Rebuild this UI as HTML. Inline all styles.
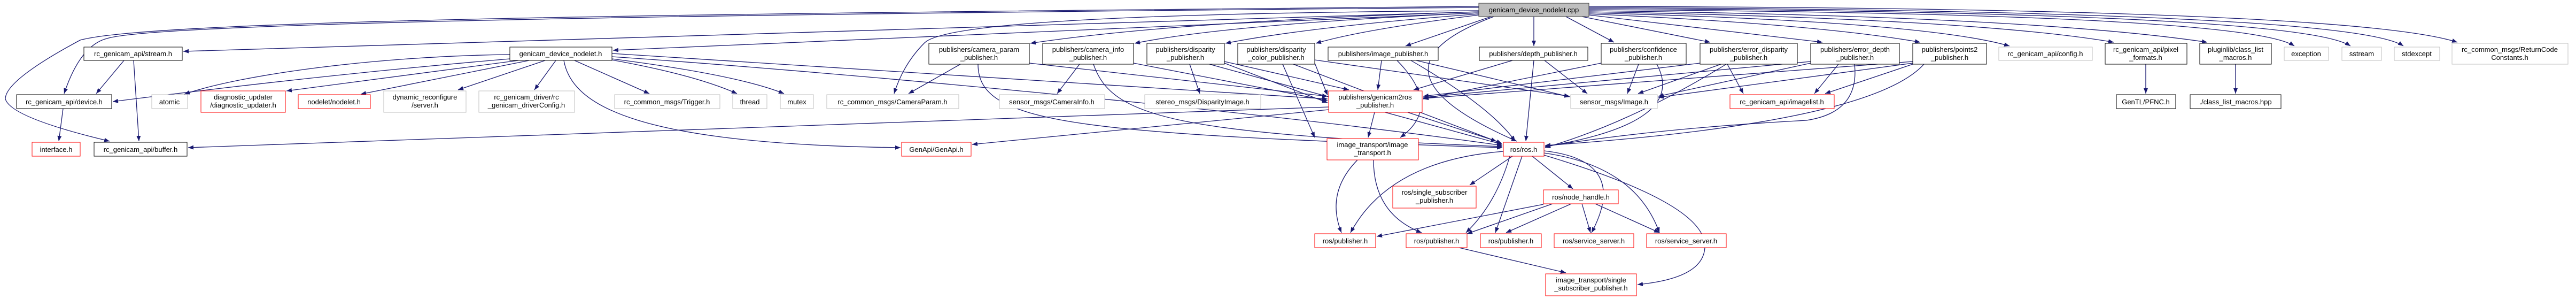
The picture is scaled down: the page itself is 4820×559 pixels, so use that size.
<!DOCTYPE html>
<html><head><meta charset="utf-8"><style>
html,body{margin:0;padding:0;background:#fff;width:4820px;height:559px;overflow:hidden}
svg text{font-family:"Liberation Sans",sans-serif;font-size:13px;fill:#000}
.e{fill:none;stroke:#191970;stroke-width:1.3;marker-end:url(#a)}
.k{fill:#fff;stroke:#000}.g{fill:#fff;stroke:#bfbfbf}.r{fill:#fff;stroke:#ff0000}
</style></head><body>
<svg width="4820" height="559" xmlns="http://www.w3.org/2000/svg">
<defs><marker id="a" viewBox="0 0 10 8" refX="10" refY="4" markerWidth="10" markerHeight="8" markerUnits="userSpaceOnUse" orient="auto"><path d="M0,0L10,4L0,8z" fill="#191970"/></marker></defs>
<g>
<path class="e" d="M2767,22 L343,96"/>
<path class="e" d="M2767,14 C1500,25 300,40 200,72 Q150,85 120,175"/>
<path class="e" d="M2767,12 C1500,24 300,34 150,75 Q10,150 10,185 Q20,220 205,264"/>
<path class="e" d="M2767,24 L1147,94"/>
<path class="e" d="M2767,20 C2000,25 1760,50 1730,80 Q1690,120 1673,175"/>
<path class="e" d="M2767,22 Q2200,40 1928,81"/>
<path class="e" d="M2767,24 Q2300,45 2123,81"/>
<path class="e" d="M2767,26 Q2450,50 2293,81"/>
<path class="e" d="M2767,28 Q2550,55 2462,81"/>
<path class="e" d="M2790,31 L2630,86"/>
<path class="e" d="M2870,31 L2870,86"/>
<path class="e" d="M2930,31 L3020,79"/>
<path class="e" d="M2960,31 L3200,79"/>
<path class="e" d="M2973,28 L3410,79"/>
<path class="e" d="M2973,26 Q3400,45 3593,79"/>
<path class="e" d="M2973,24 Q3600,40 3760,86"/>
<path class="e" d="M2973,22 Q3700,35 3955,79"/>
<path class="e" d="M2973,20 Q3800,30 4130,79"/>
<path class="e" d="M2973,18 Q4200,25 4293,86"/>
<path class="e" d="M2973,16 Q4300,22 4398,86"/>
<path class="e" d="M2973,14 Q4400,20 4497,86"/>
<path class="e" d="M2973,12 Q4400,15 4598,79"/>
<path class="e" d="M2795,31 Q2530,130 2838,264"/>
<path class="e" d="M954,110 Q600,140 211,190"/>
<path class="e" d="M954,102 C700,105 450,140 345,176"/>
<path class="e" d="M970,113 L536,170"/>
<path class="e" d="M990,113 L675,176"/>
<path class="e" d="M1020,113 L857,168"/>
<path class="e" d="M1040,113 L1000,168"/>
<path class="e" d="M1075,113 L1215,175"/>
<path class="e" d="M1145,112 Q1300,140 1379,175"/>
<path class="e" d="M1145,110 Q1380,140 1467,175"/>
<path class="e" d="M1055,113 C1070,200 1200,270 1685,276"/>
<path class="e" d="M1145,100 L2484,185"/>
<path class="e" d="M1145,106 C1500,130 2300,200 2811,272"/>
<path class="e" d="M232,113 L180,175"/>
<path class="e" d="M250,113 L260,264"/>
<path class="e" d="M118,203 L110,264"/>
<path class="e" d="M1797,120 L1700,175"/>
<path class="e" d="M1926,118 L2484,180"/>
<path class="e" d="M1830,120 C1830,230 2000,250 2811,276"/>
<path class="e" d="M2020,120 L1978,175"/>
<path class="e" d="M2121,118 L2484,188"/>
<path class="e" d="M2046,120 C2080,220 2200,250 2811,274"/>
<path class="e" d="M2226,120 L2245,175"/>
<path class="e" d="M2291,118 L2484,192"/>
<path class="e" d="M2263,120 L2811,270"/>
<path class="e" d="M2291,115 L2524,168"/>
<path class="e" d="M2400,120 L2460,257"/>
<path class="e" d="M2420,120 L2810,268"/>
<path class="e" d="M2460,112 L2937,180"/>
<path class="e" d="M2460,118 L2484,178"/>
<path class="e" d="M2585,113 L2578,168"/>
<path class="e" d="M2614,113 Q2700,200 2620,257"/>
<path class="e" d="M2640,113 Q2790,200 2835,264"/>
<path class="e" d="M2650,113 L2937,181"/>
<path class="e" d="M2830,113 L2645,168"/>
<path class="e" d="M2890,113 L2970,175"/>
<path class="e" d="M2870,113 L2855,264"/>
<path class="e" d="M2996,118 L2663,185"/>
<path class="e" d="M3066,120 L3045,175"/>
<path class="e" d="M3100,120 Q3160,230 2891,274"/>
<path class="e" d="M3181,118 L2663,180"/>
<path class="e" d="M3220,120 L3065,175"/>
<path class="e" d="M3232,120 L3262,175"/>
<path class="e" d="M3230,120 Q3050,230 2891,276"/>
<path class="e" d="M3388,115 L2663,182"/>
<path class="e" d="M3388,118 L3103,180"/>
<path class="e" d="M3440,120 L3395,175"/>
<path class="e" d="M3470,120 Q3480,210 3380,225 Q3100,240 2891,274"/>
<path class="e" d="M3579,115 L2663,184"/>
<path class="e" d="M3579,118 L3103,182"/>
<path class="e" d="M3579,120 L3415,175"/>
<path class="e" d="M3600,120 Q3500,230 2891,272"/>
<path class="e" d="M2572,210 L2560,257"/>
<path class="e" d="M2634,210 L2800,264"/>
<path class="e" d="M2486,200 L352,276"/>
<path class="e" d="M2486,205 L1819,270"/>
<path class="e" d="M2540,299 Q2480,360 2510,435"/>
<path class="e" d="M2570,299 Q2570,400 2660,435"/>
<path class="e" d="M2830,292 L2750,346"/>
<path class="e" d="M2867,292 L2943,353"/>
<path class="e" d="M2813,283 Q2600,300 2527,435"/>
<path class="e" d="M2825,292 Q2800,380 2743,435"/>
<path class="e" d="M2848,292 L2798,435"/>
<path class="e" d="M2889,282 Q3050,300 2978,435"/>
<path class="e" d="M2889,286 Q3060,310 3105,435"/>
<path class="e" d="M2889,290 Q3190,380 3190,460 Q3190,520 3064,532"/>
<path class="e" d="M2888,382 L2576,442"/>
<path class="e" d="M2905,381 L2745,437"/>
<path class="e" d="M2940,381 L2818,435"/>
<path class="e" d="M2960,381 L2976,435"/>
<path class="e" d="M2985,381 L3105,435"/>
<path class="e" d="M2730,463 L2930,510"/>
<path class="e" d="M4015,120 L4015,175"/>
<path class="e" d="M4183,120 L4183,175"/>
</g>
<g text-anchor="middle">
<rect x="2767" y="6" width="206" height="25" fill="#bfbfbf" stroke="#404040"/><text x="2870" y="23">genicam_device_nodelet.cpp</text>
<rect class="k" x="157" y="88" width="184" height="25"/><text x="249" y="105">rc_genicam_api/stream.h</text>
<rect class="k" x="954" y="88" width="191" height="25"/><text x="1049" y="105">genicam_device_nodelet.h</text>
<rect class="k" x="31" y="177" width="178" height="26"/><text x="120" y="195">rc_genicam_api/device.h</text>
<rect class="g" x="284" y="177" width="67" height="26"/><text x="317" y="195">atomic</text>
<rect class="r" x="376" y="170" width="158" height="40"/><text x="455" y="186">diagnostic_updater</text><text x="455" y="201">/diagnostic_updater.h</text>
<rect class="r" x="558" y="177" width="135" height="26"/><text x="625" y="195">nodelet/nodelet.h</text>
<rect class="g" x="718" y="170" width="154" height="40"/><text x="795" y="186">dynamic_reconfigure</text><text x="795" y="201">/server.h</text>
<rect class="g" x="896" y="170" width="179" height="40"/><text x="985" y="186">rc_genicam_driver/rc</text><text x="985" y="201">_genicam_driverConfig.h</text>
<rect class="g" x="1150" y="177" width="197" height="26"/><text x="1248" y="195">rc_common_msgs/Trigger.h</text>
<rect class="g" x="1371" y="177" width="64" height="26"/><text x="1403" y="195">thread</text>
<rect class="g" x="1460" y="177" width="62" height="26"/><text x="1491" y="195">mutex</text>
<rect class="g" x="1547" y="177" width="247" height="26"/><text x="1670" y="195">rc_common_msgs/CameraParam.h</text>
<rect class="r" x="60" y="266" width="90" height="26"/><text x="105" y="284">interface.h</text>
<rect class="k" x="176" y="266" width="174" height="26"/><text x="263" y="284">rc_genicam_api/buffer.h</text>
<rect class="k" x="1738" y="81" width="188" height="39"/><text x="1832" y="97">publishers/camera_param</text><text x="1832" y="112">_publisher.h</text>
<rect class="k" x="1951" y="81" width="170" height="39"/><text x="2036" y="97">publishers/camera_info</text><text x="2036" y="112">_publisher.h</text>
<rect class="k" x="2146" y="81" width="145" height="39"/><text x="2218" y="97">publishers/disparity</text><text x="2218" y="112">_publisher.h</text>
<rect class="k" x="2316" y="81" width="144" height="39"/><text x="2388" y="97">publishers/disparity</text><text x="2388" y="112">_color_publisher.h</text>
<rect class="g" x="1870" y="177" width="197" height="26"/><text x="1968" y="195">sensor_msgs/CameraInfo.h</text>
<rect class="g" x="2142" y="177" width="217" height="26"/><text x="2250" y="195">stereo_msgs/DisparityImage.h</text>
<rect class="r" x="1687" y="266" width="130" height="26"/><text x="1752" y="284">GenApi/GenApi.h</text>
<rect class="k" x="2485" y="88" width="206" height="25"/><text x="2588" y="105">publishers/image_publisher.h</text>
<rect class="k" x="2768" y="88" width="203" height="25"/><text x="2869" y="105">publishers/depth_publisher.h</text>
<rect class="k" x="2996" y="81" width="159" height="39"/><text x="3075" y="97">publishers/confidence</text><text x="3075" y="112">_publisher.h</text>
<rect class="k" x="3181" y="81" width="182" height="39"/><text x="3272" y="97">publishers/error_disparity</text><text x="3272" y="112">_publisher.h</text>
<rect class="k" x="3388" y="81" width="166" height="39"/><text x="3471" y="97">publishers/error_depth</text><text x="3471" y="112">_publisher.h</text>
<rect class="k" x="3579" y="81" width="138" height="39"/><text x="3648" y="97">publishers/points2</text><text x="3648" y="112">_publisher.h</text>
<rect class="r" x="2486" y="170" width="175" height="40"/><text x="2573" y="186">publishers/genicam2ros</text><text x="2573" y="201">_publisher.h</text>
<rect class="g" x="2939" y="177" width="162" height="26"/><text x="3020" y="195">sensor_msgs/Image.h</text>
<rect class="r" x="3237" y="177" width="195" height="26"/><text x="3334" y="195">rc_genicam_api/imagelist.h</text>
<rect class="r" x="2483" y="259" width="171" height="40"/><text x="2568" y="275">image_transport/image</text><text x="2568" y="290">_transport.h</text>
<rect class="r" x="2813" y="266" width="76" height="26"/><text x="2851" y="284">ros/ros.h</text>
<rect class="r" x="2606" y="348" width="156" height="41"/><text x="2684" y="364">ros/single_subscriber</text><text x="2684" y="379">_publisher.h</text>
<rect class="r" x="2888" y="355" width="140" height="26"/><text x="2958" y="373">ros/node_handle.h</text>
<rect class="r" x="2460" y="437" width="114" height="26"/><text x="2517" y="455">ros/publisher.h</text>
<rect class="r" x="2631" y="437" width="114" height="26"/><text x="2688" y="455">ros/publisher.h</text>
<rect class="r" x="2770" y="437" width="114" height="26"/><text x="2827" y="455">ros/publisher.h</text>
<rect class="r" x="2908" y="437" width="149" height="26"/><text x="2982" y="455">ros/service_server.h</text>
<rect class="r" x="3081" y="437" width="149" height="26"/><text x="3155" y="455">ros/service_server.h</text>
<rect class="r" x="2892" y="512" width="170" height="41"/><text x="2977" y="528">image_transport/single</text><text x="2977" y="543">_subscriber_publisher.h</text>
<rect class="g" x="3740" y="88" width="175" height="25"/><text x="3827" y="105">rc_genicam_api/config.h</text>
<rect class="k" x="3939" y="81" width="153" height="39"/><text x="4015" y="97">rc_genicam_api/pixel</text><text x="4015" y="112">_formats.h</text>
<rect class="k" x="4116" y="81" width="134" height="39"/><text x="4183" y="97">pluginlib/class_list</text><text x="4183" y="112">_macros.h</text>
<rect class="g" x="4274" y="88" width="83" height="25"/><text x="4315" y="105">exception</text>
<rect class="g" x="4382" y="88" width="74" height="25"/><text x="4419" y="105">sstream</text>
<rect class="g" x="4480" y="88" width="85" height="25"/><text x="4522" y="105">stdexcept</text>
<rect class="g" x="4588" y="81" width="217" height="39"/><text x="4696" y="97">rc_common_msgs/ReturnCode</text><text x="4696" y="112">Constants.h</text>
<rect class="k" x="3960" y="177" width="111" height="26"/><text x="4015" y="195">GenTL/PFNC.h</text>
<rect class="k" x="4098" y="177" width="170" height="26"/><text x="4183" y="195">./class_list_macros.hpp</text>
</g>
</svg>
</body></html>
